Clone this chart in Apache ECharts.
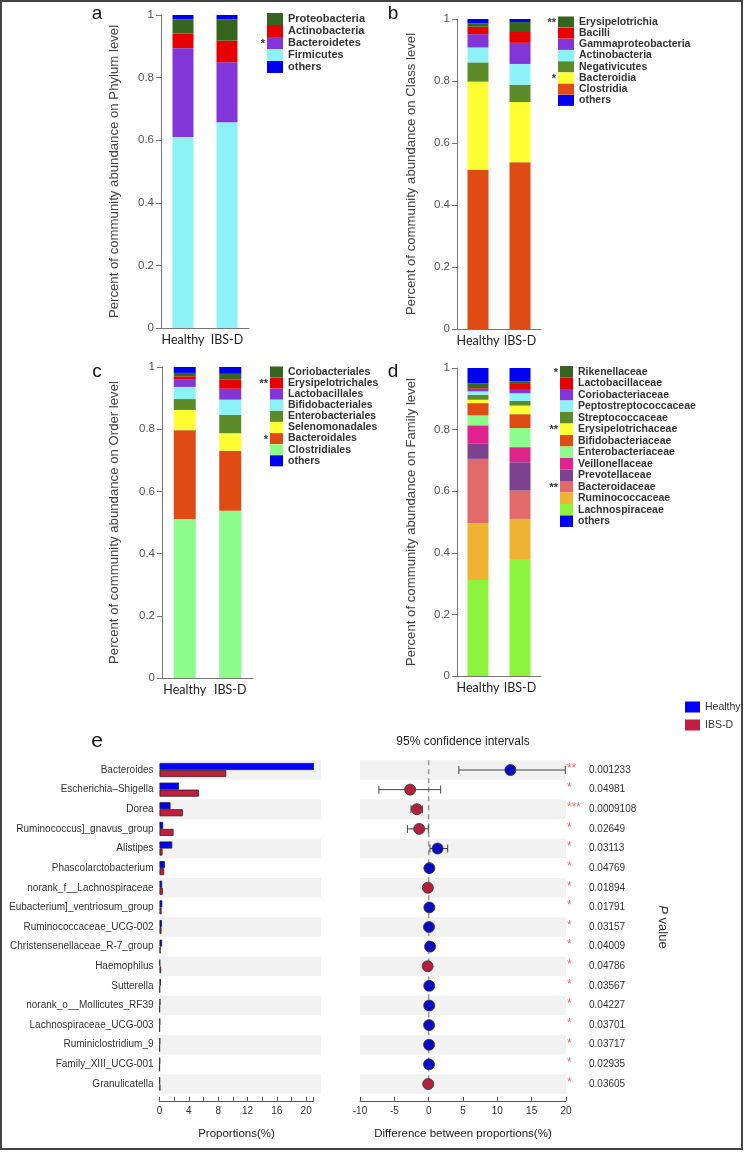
<!DOCTYPE html>
<html><head><meta charset="utf-8">
<script src="https://cdn.jsdelivr.net/npm/echarts@6/dist/echarts.min.js"></script>
<style>html,body{margin:0;padding:0;background:#fff}#c{width:746px;height:1152px}</style>
</head><body><div id="c"></div>
<script>
// ---------------- DATA ----------------
const groups = ['Healthy', 'IBS-D'];

// Panel a – Phylum (stack order, bottom -> top)
const phylumNames   = ['Firmicutes', 'Bacteroidetes', 'Actinobacteria', 'Proteobacteria', 'others'];
const phylumHealthy = [0.610, 0.284, 0.047, 0.045, 0.014];
const phylumIBSD    = [0.657, 0.192, 0.069, 0.068, 0.014];
const phylumStars   = ['', '*', '', '', ''];

// Panel b – Class
const classNames   = ['Clostridia', 'Bacteroidia', 'Negativicutes', 'Actinobacteria', 'Gammaproteobacteria', 'Bacilli', 'Erysipelotrichia', 'others'];
const classHealthy = [0.513, 0.285, 0.062, 0.048, 0.043, 0.024, 0.011, 0.014];
const classIBSD    = [0.538, 0.194, 0.056, 0.067, 0.068, 0.035, 0.032, 0.010];
const classStars   = ['', '*', '', '', '', '', '**', ''];

// Panel c – Order
const orderNames   = ['Clostridiales', 'Bacteroidales', 'Selenomonadales', 'Enterobacteriales', 'Bifidobacteriales', 'Lactobacillales', 'Erysipelotrichales', 'Coriobacteriales', 'others'];
const orderHealthy = [0.511, 0.286, 0.065, 0.035, 0.039, 0.025, 0.009, 0.011, 0.019];
const orderIBSD    = [0.538, 0.193, 0.056, 0.059, 0.049, 0.035, 0.029, 0.019, 0.022];
const orderStars   = ['', '*', '', '', '', '', '**', '', ''];

// Panel d – Family
const familyNames   = ['Lachnospiraceae', 'Ruminococcaceae', 'Bacteroidaceae', 'Prevotellaceae', 'Veillonellaceae', 'Enterobacteriaceae', 'Bifidobacteriaceae', 'Erysipelotrichaceae', 'Streptococcaceae', 'Peptostreptococcaceae', 'Coriobacteriaceae', 'Lactobacillaceae', 'Rikenellaceae', 'others'];
const familyHealthy = [0.312, 0.184, 0.209, 0.049, 0.060, 0.032, 0.040, 0.011, 0.016, 0.011, 0.005, 0.005, 0.016, 0.050];
const familyIBSD    = [0.377, 0.133, 0.092, 0.092, 0.049, 0.062, 0.045, 0.028, 0.015, 0.025, 0.011, 0.022, 0.006, 0.043];
const familyStars   = ['', '', '**', '', '', '', '', '**', '', '', '', '', '*', ''];

// Panel e – genus level comparison
const genera = ['Bacteroides', 'Escherichia–Shigella', 'Dorea', 'Ruminococcus]_gnavus_group', 'Alistipes', 'Phascolarctobacterium', 'norank_f__Lachnospiraceae', 'Eubacterium]_ventriosum_group', 'Ruminococcaceae_UCG-002', 'Christensenellaceae_R-7_group', 'Haemophilus', 'Sutterella', 'norank_o__Mollicutes_RF39', 'Lachnospiraceae_UCG-003', 'Ruminiclostridium_9', 'Family_XIII_UCG-001', 'Granulicatella'];
const propHealthy = [21.1, 2.64, 1.50, 0.50, 1.73, 0.73, 0.36, 0.38, 0.33, 0.35, 0.08, 0.18, 0.12, 0.08, 0.08, 0.06, 0.04];
const propIBSD    = [9.10, 5.37, 3.18, 1.91, 0.41, 0.64, 0.45, 0.28, 0.27, 0.15, 0.22, 0.06, 0.03, 0.03, 0.03, 0.02, 0.10];
const diffMean    = [11.9, -2.70, -1.72, -1.38, 1.30, 0.10, -0.12, 0.10, 0.05, 0.20, -0.15, 0.08, 0.08, 0.06, 0.06, 0.05, -0.07];
const ciLow       = [4.40, -7.25, -2.57, -3.10, 0.19, 0.02, -0.25, 0.01, 0.01, 0.02, -0.30, 0.01, 0.01, 0.01, 0.01, 0.01, -0.13];
const ciHigh      = [19.9, 1.75, -0.92, -0.05, 2.77, 0.20, -0.02, 0.20, 0.10, 0.38, -0.01, 0.15, 0.15, 0.11, 0.11, 0.09, -0.01];
const pValues     = ['0.001233', '0.04981', '0.0009108', '0.02649', '0.03113', '0.04769', '0.01894', '0.01791', '0.03157', '0.04009', '0.04786', '0.03567', '0.04227', '0.03701', '0.03717', '0.02935', '0.03605'];
const pStars      = ['**', '*', '***', '*', '*', '*', '*', '*', '*', '*', '*', '*', '*', '*', '*', '*', '*'];

// ---------------- STYLE ----------------
const ARIAL = '"Liberation Sans", Arial, sans-serif';
const C = {
  dkgreen: '#35651f', red: '#e60000', purple: '#8235d8', cyan: '#8cf2f8', blue: '#0000f0',
  olive: '#5c8c2a', yellow: '#ffff33', orange: '#e04b14', ltgreen: '#8cfc8c', magenta: '#e0228c',
  prev: '#7d4190', salmon: '#e36a6a', gold: '#efb232', lime: '#8cf43a'
};
const phylumColors = [C.cyan, C.purple, C.red, C.dkgreen, C.blue];
const classColors  = [C.orange, C.yellow, C.olive, C.cyan, C.purple, C.red, C.dkgreen, C.blue];
const orderColors  = [C.ltgreen, C.orange, C.yellow, C.olive, C.cyan, C.purple, C.red, C.dkgreen, C.blue];
const familyColors = [C.lime, C.gold, C.salmon, C.prev, C.magenta, C.ltgreen, C.orange, C.yellow, C.olive, C.cyan, C.purple, C.red, C.dkgreen, C.blue];

const grids = [], xAxes = [], yAxes = [], series = [], legends = [], graphics = [];

function addStackPanel(p) {
  const gi = grids.length;
  grids.push({ left: p.left, top: p.top, width: p.width, height: p.height, containLabel: false });
  xAxes.push({
    type: 'category', gridIndex: gi, data: groups,
    axisLine: { lineStyle: { color: '#777', width: 1 } },
    axisTick: { length: 5, lineStyle: { color: '#777' } },
    axisLabel: { interval: 0, fontFamily: 'Lato', fontSize: 12.5, color: '#222', margin: 5 }
  });
  yAxes.push({
    type: 'value', gridIndex: gi, min: 0, max: 1, interval: 0.2,
    name: p.title, nameLocation: 'middle', nameGap: p.nameGap, nameRotate: 90,
    nameTextStyle: { fontFamily: ARIAL, fontSize: 13.2, color: '#444' },
    axisLine: { show: true, lineStyle: { color: '#777' } },
    axisTick: { show: true, length: 5, lineStyle: { color: '#777' } },
    axisLabel: { fontFamily: ARIAL, fontSize: 11.5, color: '#555', margin: 7 },
    splitLine: { show: false }
  });
  p.names.forEach((n, i) => {
    series.push({
      type: 'bar', name: n + '|' + p.key, stack: p.key, xAxisIndex: gi, yAxisIndex: gi,
      barWidth: p.barWidth, data: [p.healthy[i], p.ibsd[i]],
      itemStyle: { color: p.colors[i] }, silent: true, animation: false
    });
  });
  const legendOrder = p.names.slice(0, -1).reverse().concat([p.names[p.names.length - 1]]);
  const starOrder = p.stars.slice(0, -1).reverse().concat([p.stars[p.stars.length - 1]]);
  legends.push({
    orient: 'vertical', left: p.lgLeft, top: p.lgTop, padding: 0,
    itemWidth: p.lgW, itemHeight: p.lgH, itemGap: p.lgGap, icon: 'rect', selectedMode: false,
    data: legendOrder.map(n => n + '|' + p.key),
    formatter: n => n.split('|')[0],
    textStyle: { fontFamily: ARIAL, fontSize: p.lgFont, fontWeight: 'bold', color: '#333', lineHeight: p.lgH }
  });
  starOrder.forEach((s, i) => {
    if (!s) return;
    graphics.push({
      type: 'text', x: p.lgLeft - 2, y: p.lgTop + i * (p.lgH + p.lgGap) + p.lgH / 2 + 1,
      style: { text: s, fontFamily: ARIAL, fontSize: 11, fontWeight: 'bold', fill: '#333', align: 'right', verticalAlign: 'middle' }
    });
  });
  graphics.push({
    type: 'text', x: p.letterX, y: p.letterY,
    style: { text: p.letter, fontFamily: ARIAL, fontSize: 19, fill: '#111', align: 'center', verticalAlign: 'middle' }
  });
}

addStackPanel({ key: 'a', letter: 'a', letterX: 97, letterY: 14, left: 161, top: 15, width: 88, height: 313,
  title: 'Percent of community abundance on Phylum level', nameGap: 40, barWidth: 21,
  names: phylumNames, healthy: phylumHealthy, ibsd: phylumIBSD, colors: phylumColors, stars: phylumStars,
  lgLeft: 267, lgTop: 13, lgW: 16, lgH: 12, lgGap: 0, lgFont: 11 });
addStackPanel({ key: 'b', letter: 'b', letterX: 393, letterY: 14, left: 457, top: 19, width: 84, height: 310,
  title: 'Percent of community abundance on Class level', nameGap: 39, barWidth: 21,
  names: classNames, healthy: classHealthy, ibsd: classIBSD, colors: classColors, stars: classStars,
  lgLeft: 558, lgTop: 16.5, lgW: 16, lgH: 11, lgGap: 0.2, lgFont: 10.5 });
addStackPanel({ key: 'c', letter: 'c', letterX: 97, letterY: 372, left: 162, top: 367, width: 91, height: 311,
  title: 'Percent of community abundance on Order level', nameGap: 41, barWidth: 22,
  names: orderNames, healthy: orderHealthy, ibsd: orderIBSD, colors: orderColors, stars: orderStars,
  lgLeft: 270, lgTop: 366.5, lgW: 13, lgH: 11, lgGap: 0.1, lgFont: 10.5 });
addStackPanel({ key: 'd', letter: 'd', letterX: 393, letterY: 372, left: 457, top: 368, width: 84, height: 308,
  title: 'Percent of community abundance on Family level', nameGap: 39, barWidth: 21,
  names: familyNames, healthy: familyHealthy, ibsd: familyIBSD, colors: familyColors, stars: familyStars,
  lgLeft: 560, lgTop: 366, lgW: 13, lgH: 11.5, lgGap: 0, lgFont: 10.5 });

// ---------- Panel e ----------
const E_TOP = 760.2, E_H = 333.6;
const STRIPE = ['#f2f2f2', 'rgba(255,255,255,0)'];
const BLUE_E = '#0000ff', RED_E = '#c01f3f';

// left stripes background
const gBg = grids.length;
grids.push({ left: 159.5, top: E_TOP, width: 161.5, height: E_H, containLabel: false });
xAxes.push({ type: 'value', gridIndex: gBg, show: false, min: 0, max: 1 });
yAxes.push({ type: 'category', gridIndex: gBg, data: genera, inverse: true,
  axisLine: { show: false }, axisTick: { show: false }, axisLabel: { show: false }, splitLine: { show: false },
  splitArea: { show: true, areaStyle: { color: STRIPE } } });

// left bar chart
const gL = grids.length;
grids.push({ left: 159.5, top: E_TOP, width: 154, height: E_H, containLabel: false });
xAxes.push({ type: 'value', gridIndex: gL, min: 0, max: 21, interval: 2, position: 'bottom', offset: 7,
  name: 'Proportions(%)', nameLocation: 'middle', nameGap: 27,
  nameTextStyle: { fontFamily: ARIAL, fontSize: 11.5, color: '#222' },
  axisLine: { show: true, lineStyle: { color: '#555' } },
  axisTick: { show: true, inside: true, length: 4, lineStyle: { color: '#555' } },
  axisLabel: { fontFamily: ARIAL, fontSize: 10, color: '#333', margin: 5, formatter: v => (v % 4 === 0 ? String(v) : '') },
  splitLine: { show: false } });
yAxes.push({ type: 'category', gridIndex: gL, data: genera, inverse: true,
  axisLine: { show: false }, axisTick: { show: false },
  axisLabel: { interval: 0, fontFamily: ARIAL, fontSize: 10, color: '#333', margin: 6 } });
series.push({ type: 'bar', name: 'Healthy', xAxisIndex: gL, yAxisIndex: gL, data: propHealthy,
  barWidth: 7, barGap: '0%', itemStyle: { color: BLUE_E, borderColor: '#1b1b3a', borderWidth: 0.8 }, animation: false });
series.push({ type: 'bar', name: 'IBS-D', xAxisIndex: gL, yAxisIndex: gL, data: propIBSD,
  barWidth: 7, barGap: '0%', itemStyle: { color: RED_E, borderColor: '#3a1b1b', borderWidth: 0.8 }, animation: false });

// right CI chart
const gR = grids.length;
grids.push({ left: 360, top: E_TOP, width: 206, height: E_H, containLabel: false });
xAxes.push({ type: 'value', gridIndex: gR, min: -10, max: 20, interval: 5, position: 'bottom', offset: 7,
  name: 'Difference between proportions(%)', nameLocation: 'middle', nameGap: 27,
  nameTextStyle: { fontFamily: ARIAL, fontSize: 11.5, color: '#222' },
  axisLine: { show: true, lineStyle: { color: '#555' } },
  axisTick: { show: true, inside: true, length: 4, lineStyle: { color: '#555' } },
  axisLabel: { fontFamily: ARIAL, fontSize: 10, color: '#333', margin: 5 },
  splitLine: { show: false } });
yAxes.push({ type: 'category', gridIndex: gR, data: genera, inverse: true,
  axisLine: { show: false }, axisTick: { show: false }, axisLabel: { show: false }, splitLine: { show: false },
  splitArea: { show: true, areaStyle: { color: STRIPE } } });
yAxes.push({ type: 'category', gridIndex: gR, data: genera, inverse: true, position: 'right',
  name: '{i|P} value', nameLocation: 'middle', nameGap: 90, nameRotate: -90,
  nameTextStyle: { fontFamily: ARIAL, fontSize: 13, color: '#333', rich: { i: { fontFamily: ARIAL, fontSize: 13, fontStyle: 'italic', color: '#333' } } },
  axisLine: { show: false }, axisTick: { show: false }, splitLine: { show: false },
  axisLabel: { interval: 0, margin: 1, formatter: (v, i) => '{s|' + pStars[i] + '}{p|' + pValues[i] + '}',
    rich: { s: { width: 22, fontFamily: ARIAL, fontSize: 12, color: '#e8696b', padding: [0, 0, 3, 0] },
            p: { fontFamily: ARIAL, fontSize: 10, color: '#333' } } } });

// zero reference line (dashed), drawn from the x scale
series.push({
  type: 'custom', name: 'zero', xAxisIndex: gR, yAxisIndex: gR, z: 2, silent: true, animation: false,
  data: [[0, 0]], encode: { x: 0, y: 1 },
  renderItem: (params, api) => {
    const p = api.coord([api.value(0), 0]);
    const cs = params.coordSys;
    return { type: 'line', shape: { x1: p[0], y1: cs.y, x2: p[0], y2: cs.y + cs.height },
      style: { stroke: '#999', lineWidth: 1.5, lineDash: [5, 4] } };
  }
});
// confidence interval whiskers
series.push({
  type: 'custom', name: 'CI', xAxisIndex: gR, yAxisIndex: gR, z: 3, silent: true, animation: false,
  data: genera.map((g, i) => [ciLow[i], ciHigh[i], i]),
  encode: { x: [0, 1], y: 2 },
  renderItem: (params, api) => {
    const lo = api.coord([api.value(0), api.value(2)]);
    const hi = api.coord([api.value(1), api.value(2)]);
    const h = 8, st = { stroke: '#444', lineWidth: 1 };
    return { type: 'group', children: [
      { type: 'line', shape: { x1: lo[0], y1: lo[1], x2: hi[0], y2: hi[1] }, style: st },
      { type: 'line', shape: { x1: lo[0], y1: lo[1] - h / 2, x2: lo[0], y2: lo[1] + h / 2 }, style: st },
      { type: 'line', shape: { x1: hi[0], y1: hi[1] - h / 2, x2: hi[0], y2: hi[1] + h / 2 }, style: st }
    ] };
  }
});
series.push({
  type: 'scatter', name: 'diff', xAxisIndex: gR, yAxisIndex: gR, z: 4, silent: true, animation: false,
  symbolSize: 11,
  data: genera.map((g, i) => [diffMean[i], i]),
  itemStyle: { color: p => (p.value[0] > 0 ? '#0a0ac0' : '#b3203c'), borderColor: '#333', borderWidth: 0.8, opacity: 1 }
});

legends.push({ orient: 'vertical', left: 685, top: 701.5, padding: 0, itemWidth: 15, itemHeight: 11, itemGap: 7,
  icon: 'rect', selectedMode: false, data: ['Healthy', 'IBS-D'], itemStyle: { borderWidth: 0 },
  textStyle: { fontFamily: ARIAL, fontSize: 10.5, color: '#333' } });

graphics.push({ type: 'text', x: 97, y: 741, style: { text: 'e', fontFamily: ARIAL, fontSize: 21, fill: '#111', align: 'center', verticalAlign: 'middle' } });
graphics.push({ type: 'text', x: 463, y: 742, style: { text: '95% confidence intervals', fontFamily: ARIAL, fontSize: 12, fill: '#222', align: 'center', verticalAlign: 'middle' } });
graphics.push({ type: 'rect', shape: { x: 1, y: 1, width: 741, height: 1148 }, style: { fill: 'none', stroke: '#444', lineWidth: 2 }, z: 100 });

const chart = echarts.init(document.getElementById('c'), null, { renderer: 'canvas' });
chart.setOption({
  animation: false,
  backgroundColor: '#fff',
  grid: grids, xAxis: xAxes, yAxis: yAxes, series: series, legend: legends,
  graphic: { elements: graphics }
});
</script></body></html>
